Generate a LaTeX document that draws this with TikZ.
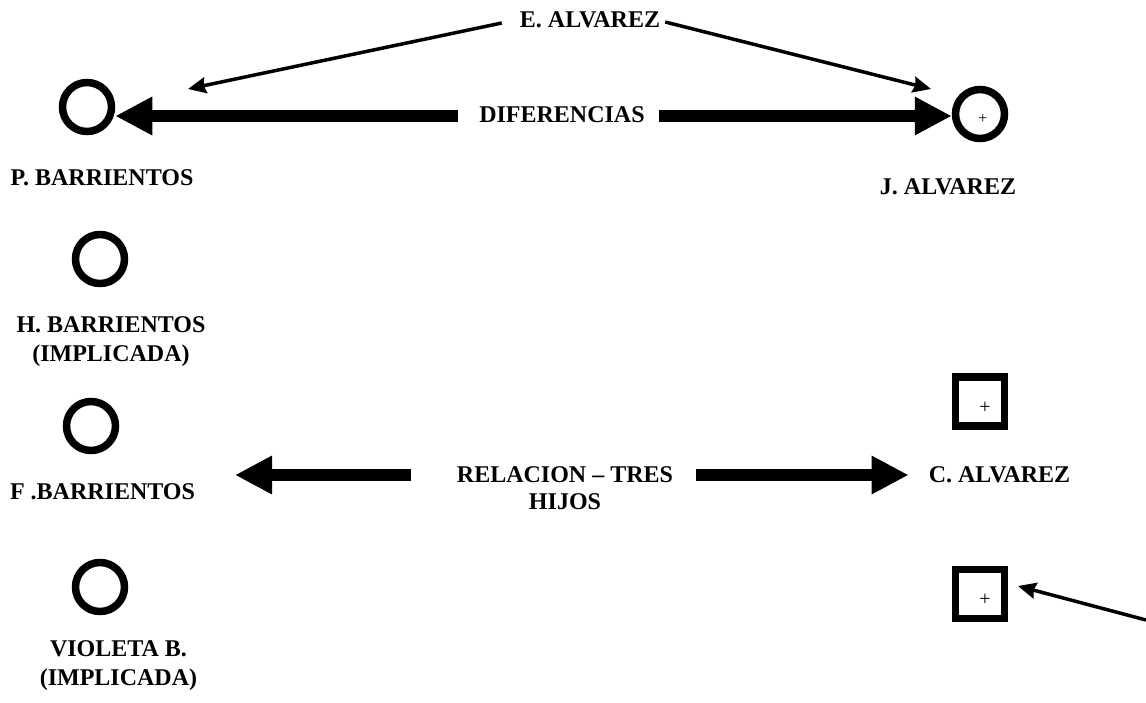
\documentclass[tikz,border=0pt]{standalone}
\usepackage{fontspec}
\setmainfont{Liberation Serif}
\usetikzlibrary{arrows.meta}
\begin{document}
\begin{tikzpicture}[x=1pt,y=-1pt,
  lbl/.style={font=\fontsize{24}{29}\selectfont\bfseries, inner sep=0pt, align=center},
  person/.style={circle, draw, line width=7.5pt, minimum size=49pt, inner sep=0pt},
  maleperson/.style={rectangle, draw, line width=7.5pt, minimum size=49pt, inner sep=0pt},
  plussign/.style={font=\fontsize{20}{20}\selectfont, inner sep=0pt},
  bigarrow/.style={line width=12pt, -{Triangle[length=37pt,width=36pt]}},
  thinarrow/.style={line width=3.5pt, -{Stealth[length=18pt,width=16pt,inset=2pt]}}]
\useasboundingbox (0,0) rectangle (1146,703);

% persons
\node[person] (pb) at (87,107) {};
\node[person] (ja) at (980,114) {};
\node[person] (hb) at (100,259) {};
\node[person] (fb) at (91,426) {};
\node[person] (vb) at (100,587) {};
\node[maleperson] (s1) at (980,401.5) {};
\node[maleperson] (s2) at (980,594) {};

% plus signs
\node[plussign, font=\fontsize{16}{16}\selectfont] (jplus) at (983,119) {+};
\node[plussign] (s1plus) at (985,408) {+};
\node[plussign] (s2plus) at (985,600) {+};

% labels
\node[lbl] (ea) at (590,20) {E. ALVAREZ};
\node[lbl] (dif) at (562,115) {DIFERENCIAS};
\node[lbl] (pbl) at (102,178) {P. BARRIENTOS};
\node[lbl] (jal) at (948,187) {J. ALVAREZ};
\node[lbl, anchor=north] (hbl) at (111,316.5) {H. BARRIENTOS\\(IMPLICADA)};
\node[lbl] (fbl) at (102.5,492) {F .BARRIENTOS};
\node[lbl, anchor=north] (vbl) at (118.5,640.5) {VIOLETA B.\\(IMPLICADA)};
\node[lbl] (rel) at (565,475) {RELACION -- TRES};
\node[lbl] (hij) at (565,502) {HIJOS};
\node[lbl] (cal) at (999.5,475) {C. ALVAREZ};

% free ends
\coordinate (eL) at (188,89);
\coordinate (eR) at (931,89);
\coordinate (relL) at (235,475);
\coordinate (brStart) at (1146,620);
\coordinate (brTip) at (1018,586);

% connectors
\draw[thinarrow] ([xshift=-18pt,yshift=-3pt]ea.west) -- (eL);
\draw[thinarrow] ([xshift=5pt,yshift=-2pt]ea.east) -- (eR);
\draw[bigarrow] ([xshift=-21pt,yshift=-1pt]dif.west) -- ([yshift=-1pt]dif.west -| pb.east);
\draw[bigarrow] ([xshift=14pt,yshift=-1pt]dif.east) -- ([yshift=-1pt]dif.east -| ja.west);
\draw[bigarrow] ([xshift=-46pt]rel.west) -- (relL);
\draw[bigarrow] ([xshift=23pt]rel.east) -- ([xshift=-20pt]cal.west);
\draw[thinarrow] (brStart) -- (brTip);
\end{tikzpicture}
\end{document}
